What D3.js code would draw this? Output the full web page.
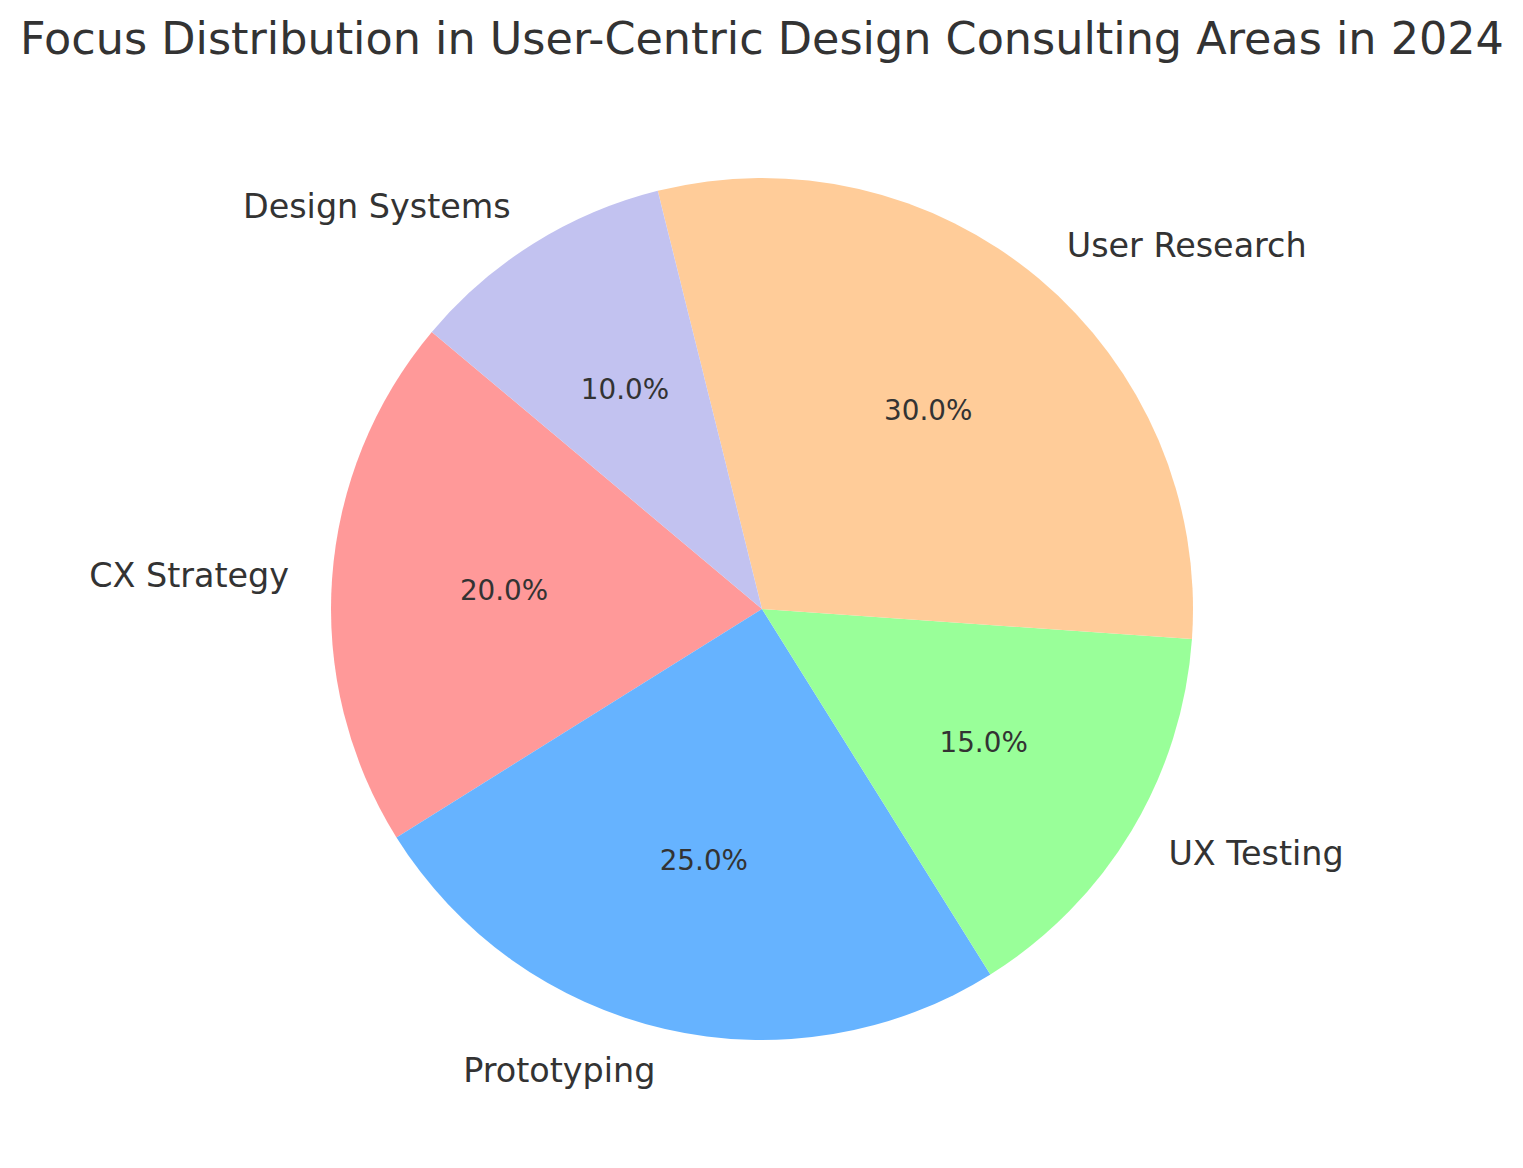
<!DOCTYPE html>
<html><head><meta charset="utf-8">
<script src="https://cdn.jsdelivr.net/npm/d3@7"></script>
<style>body{margin:0;background:#fff}svg{display:block}text{font-family:"DejaVu Sans",sans-serif;fill:#333333}</style>
</head><body><svg id="c" width="1523" height="1168"></svg>
<script>
const categories = ["CX Strategy", "Prototyping", "UX Testing", "User Research", "Design Systems"];
const values = [20, 25, 15, 30, 10];
const colors = ["#ff9999", "#66b3ff", "#99ff99", "#ffcc99", "#c2c2f0"];
const title = "Focus Distribution in User-Centric Design Consulting Areas in 2024";

const svg = d3.select("#c");
const cx = 762, cy = 609, R = 431;
const startDeg = 140; // matplotlib startangle, counterclockwise
const toRad = d => d * Math.PI / 180;
// d3 angle: 0 at top, clockwise; math angle a -> d3 = 90 - a
const pie = d3.pie().sort(null).value(d => d)
  .startAngle(toRad(90 - startDeg)).endAngle(toRad(90 - startDeg - 360));
const arcs = pie(values);
const arc = d3.arc().innerRadius(0).outerRadius(R);
const total = d3.sum(values);

const g = svg.append("g").attr("transform", `translate(${cx},${cy})`);
g.selectAll("path").data(arcs).join("path")
  .attr("d", arc).attr("fill", (d, i) => colors[i]);

arcs.forEach((d, i) => {
  const mid = (d.startAngle + d.endAngle) / 2;
  const x = Math.sin(mid), y = -Math.cos(mid);
  g.append("text")
    .attr("x", x * R * 1.1).attr("y", y * R * 1.1)
    .attr("text-anchor", x > 0 ? "start" : "end")
    .attr("dominant-baseline", "central")
    .style("font-size", "33.4px")
    .text(categories[i]);
  g.append("text")
    .attr("x", x * R * 0.6).attr("y", y * R * 0.6)
    .attr("text-anchor", "middle")
    .attr("dominant-baseline", "central")
    .style("font-size", "27.8px")
    .text((values[i] / total * 100).toFixed(1) + "%");
});

svg.append("text").attr("x", 762).attr("y", 54).attr("text-anchor", "middle")
  .style("font-size", "44.5px").text(title);
</script></body></html>
